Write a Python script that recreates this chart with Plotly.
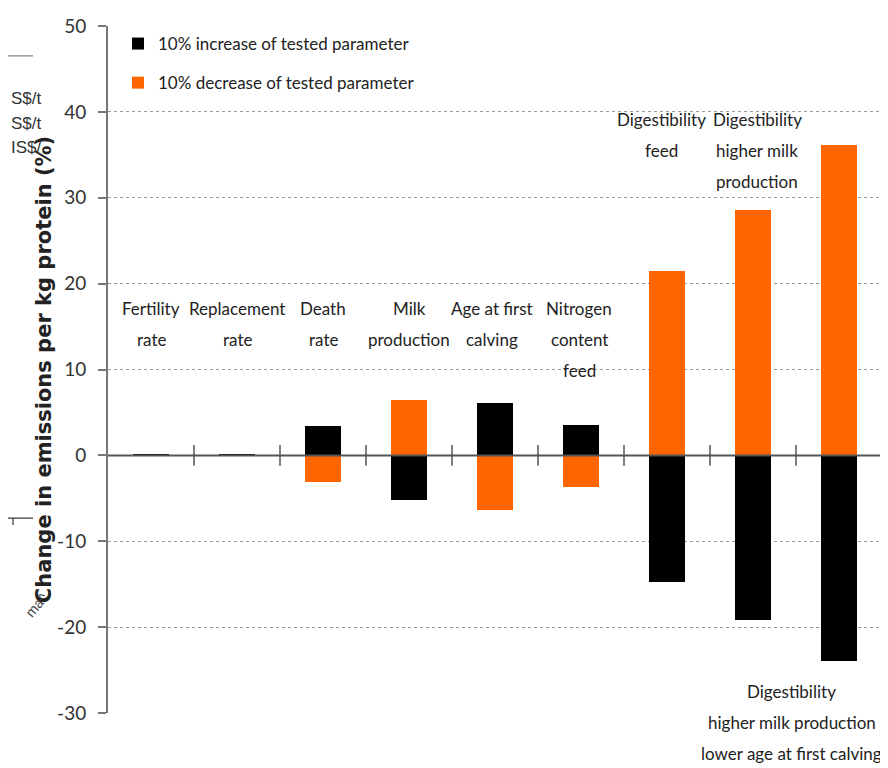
import plotly.graph_objects as go

# sensitivity of emissions per kg protein to a 10% change in each parameter
categories = ["Fertility rate", "Replacement rate", "Death rate", "Milk production",
              "Age at first calving", "Nitrogen content feed", "Digestibility feed",
              "Digestibility higher milk production",
              "Digestibility higher milk production lower age at first calving"]
increase = [0.2, 0.2, 3.4, -5.2, 6.1, 3.5, -14.7, -19.2, -24.0]
decrease = [0.0, 0.0, -3.1, 6.4, -6.4, -3.7, 21.5, 28.6, 36.1]
series_names = ["10% increase of tested parameter", "10% decrease of tested parameter"]
y_ticks = [-30, -20, -10, 0, 10, 20, 30, 40, 50]
y_ticktext = ["-30", "-20", "-10", "0", "10", "20", "30", "40", "50"]

label_lines = [["Fertility", "rate"], ["Replacement", "rate"], ["Death", "rate"],
               ["Milk", "production"], ["Age at first", "calving"],
               ["Nitrogen", "content", "feed"], ["Digestibility", "feed"],
               ["Digestibility", "higher milk", "production"],
               ["Digestibility", "higher milk production", "lower age at first calving"]]
label_top = [18.6, 18.6, 18.6, 18.6, 18.6, 18.6, 40.6, 40.6, -26.0]
label_dx = [0, 0, 0, 0, -0.03, -0.02, -0.06, 0.05, -0.55]

NARROW = "Lato, Liberation Sans, sans-serif"
# the page body adds an 8px margin, so the figure is 8px smaller than the window
OFF = 8
L, R, T, B = 100, 6, 14, 55
W, H = 880, 760
PW, PH = W - L - R, H - T - B


def px_x(px):
    return (px - OFF - L) / PW


def px_y(py):
    return (H - B - (py - OFF)) / PH


xs = list(range(len(categories)))
fig = go.Figure()
fig.add_trace(go.Bar(x=xs, y=increase, name=series_names[0], marker_color="#000000",
                     marker_line_width=0, width=0.41, legendgroup="a"))
fig.add_trace(go.Bar(x=xs, y=decrease, name=series_names[1], marker_color="#FF6600",
                     marker_line_width=0, width=0.41, legendgroup="b"))

annotations = []
for i, lines in enumerate(label_lines):
    for k, line in enumerate(lines):
        annotations.append(dict(x=i + label_dx[i], y=label_top[i], xref="x", yref="y",
                                text=line, showarrow=False, yanchor="top",
                                yshift=-31 * k, font=dict(family=NARROW, size=17, color="#222")))

# cropped fragments at the left edge of the scan
for py, txt in [(83, "S$/t"), (108, "S$/t"), (133, "IS$/")]:
    annotations.append(dict(x=px_x(9), y=px_y(py), xref="paper", yref="paper", text=txt,
                            showarrow=False, xanchor="left",
                            font=dict(family="Liberation Sans", size=17, color="#333")))
annotations.append(dict(x=px_x(19), y=px_y(622), xref="paper", yref="paper", text="ma^",
                        showarrow=False, textangle=-50,
                        font=dict(family="Liberation Sans", size=14, color="#444")))

shapes = [
    dict(type="line", xref="paper", yref="paper", x0=px_x(8), x1=px_x(33), y0=px_y(52), y1=px_y(52),
         line=dict(color="#999", width=1.5)),
    dict(type="line", xref="paper", yref="paper", x0=px_x(8), x1=px_x(33), y0=px_y(517), y1=px_y(517),
         line=dict(color="#333", width=1.2)),
    dict(type="line", xref="paper", yref="paper", x0=px_x(13), x1=px_x(13), y0=px_y(517), y1=px_y(524),
         line=dict(color="#333", width=1.2)),
    # zero line over the bars
    dict(type="line", xref="paper", yref="y", x0=0, x1=1, y0=0, y1=0, layer="above",
         line=dict(color="#555", width=2)),
]
for i in range(len(categories)):
    shapes.append(dict(type="line", xref="x", yref="y", x0=i + 0.5, x1=i + 0.5, y0=-1.2, y1=1.2,
                       layer="above", line=dict(color="#555", width=1.5)))

fig.update_layout(
    width=W, height=H,
    margin=dict(l=L, r=R, t=T, b=B),
    paper_bgcolor="white", plot_bgcolor="white",
    barmode="overlay", bargap=0,
    showlegend=True,
    legend=dict(x=px_x(118), y=px_y(22), xanchor="left", yanchor="top",
                bgcolor="rgba(0,0,0,0)", traceorder="grouped", tracegroupgap=14,
                font=dict(family=NARROW, size=17, color="#222"), itemwidth=30),
    xaxis=dict(range=[-0.5, 8.5], showticklabels=False, showgrid=False, zeroline=False,
               showline=False, ticks=""),
    yaxis=dict(range=[-30, 50], tickvals=y_ticks, ticktext=y_ticktext,
               showgrid=True, gridcolor="#999", griddash="dot",
               gridwidth=1.2, zeroline=False, showline=True, linecolor="#777", linewidth=2,
               ticks="outside", ticklen=8, tickcolor="#777", tickwidth=2, ticklabelstandoff=8,
               tickfont=dict(family=NARROW, size=19, color="#333"),
               title=dict(text="<b>Change in emissions per kg protein (%)</b>", standoff=0,
                          font=dict(family="DejaVu Sans, sans-serif", size=21, color="#222"))),
    annotations=annotations,
    shapes=shapes,
)

fig.write_html("out.html")
